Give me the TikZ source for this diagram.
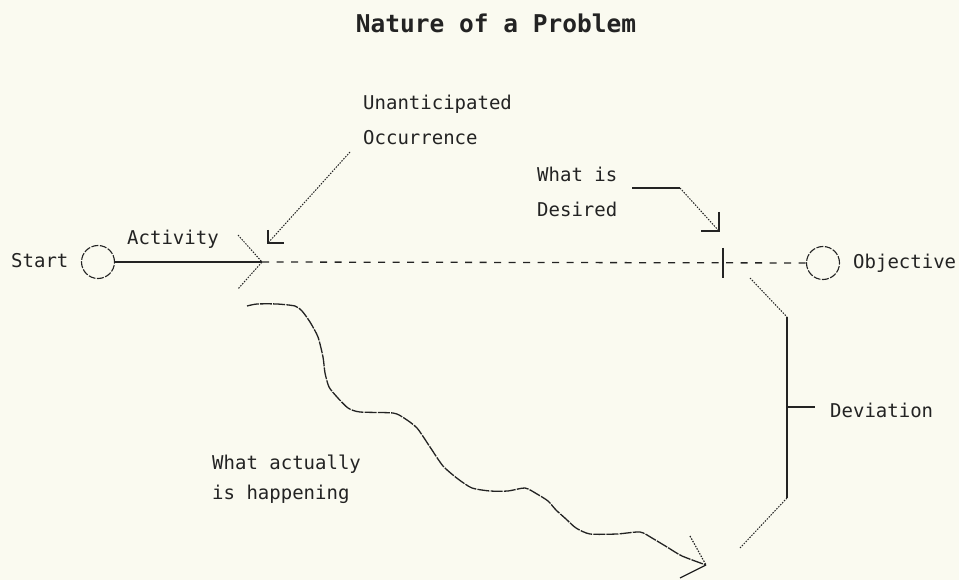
\documentclass[tikz,border=0pt]{standalone}
\usepackage{fontspec}
\newfontfamily\labfont{DejaVu Sans Mono}
\definecolor{bg}{RGB}{250,250,240}
\definecolor{ink}{RGB}{35,35,35}
\begin{document}
\begin{tikzpicture}[x=1pt,y=-1pt,
  lab/.style={font=\labfont\fontsize{19}{35}\selectfont, inner sep=0pt, text=ink, align=left},
  ttl/.style={font=\labfont\bfseries\fontsize{24.5}{28}\selectfont, inner sep=0pt, text=ink},
  circ/.style={circle, draw=ink, line width=1.1pt, dash pattern=on 7pt off 1.5pt, minimum size=33pt, inner sep=0pt},
  solidline/.style={draw=ink, line width=1.4pt},
  dashline/.style={draw=ink, line width=1.3pt, dash pattern=on 7pt off 7.5pt},
  dotline/.style={draw=ink, line width=1pt, dash pattern=on 1.5pt off 1.3pt},
  wave/.style={draw=ink, line width=1.3pt, dash pattern=on 12pt off 1.2pt, line join=round}]
\fill[bg] (0,0) rectangle (959,580);
\useasboundingbox (0,0) rectangle (959,580);

% title
\node[ttl, anchor=base] (title) at (496,33) {Nature of a Problem};

% circles and main line
\node[circ] (s) at (98,262) {};
\node[circ] (o) at (823,263) {};
\node[lab, anchor=base west] (start) at (11,268) {Start};
\node[lab, anchor=base west] (obj) at (853,269) {Objective};
\node[lab, anchor=base west] (act) at (127,245) {Activity};

\coordinate (occ) at (262,262);
\coordinate (des) at (723,263);
\draw[solidline] (s) -- (occ);
\draw[dotline] (238,235) -- (occ) -- (238,289);
\draw[dashline] (occ) -- (o);
\draw[solidline, line width=1.2pt] (723,248) -- (723,278);

% unanticipated occurrence
\node[lab, anchor=north west] (ua) at (363,95) {Unanticipated\\Occurrence};
\coordinate (uaS) at (350,152);
\coordinate (uaT) at (268,243);
\draw[dotline] (uaS) -- (uaT);
\draw[solidline, line width=1.2pt] (268,230) -- (uaT) -- (284,243);

% what is desired
\node[lab, anchor=north west] (wd) at (537,167) {What is\\Desired};
\coordinate (wdA) at (632,188);
\coordinate (wdB) at (680,188);
\coordinate (wdT) at (719,231);
\draw[solidline] (wdA) -- (wdB);
\draw[dotline] (wdB) -- (wdT);
\draw[solidline, line width=1.2pt] (719,212) -- (wdT) -- (701,231);

% deviation bracket
\coordinate (dvA) at (750,278);
\coordinate (dvB) at (787,317);
\coordinate (dvC) at (787,498);
\coordinate (dvD) at (740,548);
\coordinate (dvM) at (787,407);
\draw[dotline] (dvA) -- (dvB);
\draw[solidline, line width=1.2pt] (dvB) -- (dvC);
\draw[dotline] (dvC) -- (dvD);
\draw[solidline, line width=1.2pt] (dvM) -- (815,407);
\node[lab, anchor=base west] (dev) at (830,417) {Deviation};

% what actually is happening
\node[lab, anchor=north west, font=\labfont\fontsize{19}{30}\selectfont] (wa) at (212,455) {What actually\\is happening};
\coordinate (wvT) at (706,565);
\draw[wave] plot[smooth, tension=0.4] coordinates {(247,306) (257,304) (277,304) (295,306) (302,311) (310,322) (318,337) (323,357) (325,373) (329,387) (337,397) (348,408) (360,412) (393,413) (404,418) (417,428) (430,447) (443,466) (458,479) (472,488) (490,491) (508,491) (525,488) (537,494) (548,501) (556,510) (566,519) (576,528) (590,534) (617,534) (640,532) (652,538) (667,547) (682,556) (706,565)};
\draw[dotline, line width=1.2pt] (690,536) -- (wvT);
\draw[solidline, line width=1.2pt] (wvT) -- (680,578);
\end{tikzpicture}
\end{document}
